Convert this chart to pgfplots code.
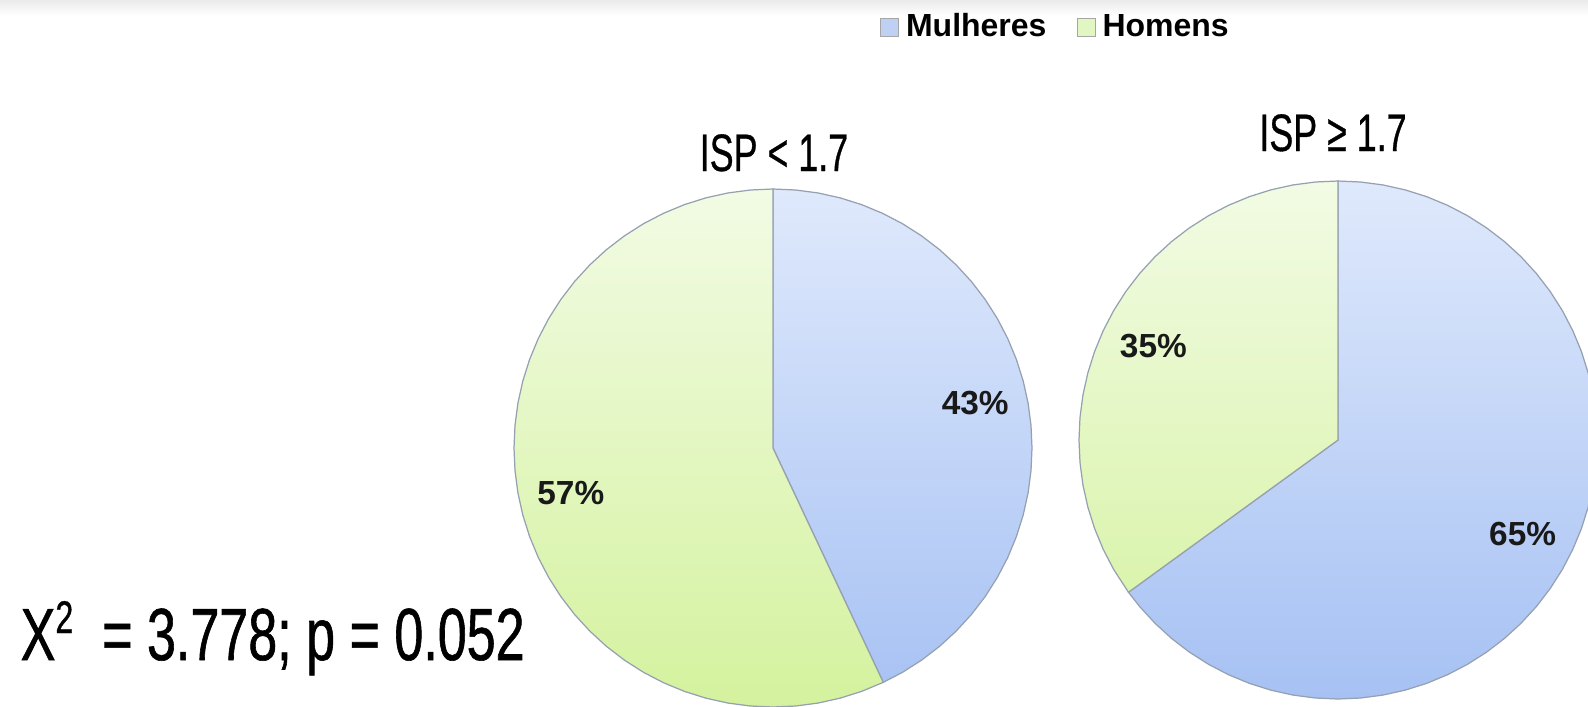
\documentclass[border=0pt]{standalone}
\usepackage{pgfplots}
\pgfplotsset{compat=1.18}
\usepgfplotslibrary{polar}
\usepackage{fontspec}
\setmainfont{Liberation Sans}
\newfontfamily\narrowfont{Liberation Sans}[FakeStretch=0.68, FakeBold=0.6]
\newfontfamily\chifont{Liberation Sans}[FakeStretch=0.705, FakeBold=0.8]
\definecolor{btop}{HTML}{DFE9FC}
\definecolor{bbot}{HTML}{A6C1F3}
\definecolor{gtop}{HTML}{F2FBE4}
\definecolor{gbot}{HTML}{D4F29E}
\definecolor{edge}{HTML}{95A0B0}
\definecolor{blegend}{HTML}{BFD0F4}
\definecolor{glegend}{HTML}{E2F6C4}
\pgfplotsset{
  pie/.style={hide axis, scale only axis, width=5.18cm, height=5.18cm,
    xmin=0, xmax=360, ymin=0, ymax=1, clip=false, anchor=center},
  slice/.style={draw=edge, line width=0.35pt, forget plot},
}
\tikzset{lbl/.style={font=\bfseries\fontsize{9.5}{11}\selectfont, text=black!90}}
\begin{document}
\begin{tikzpicture}
\useasboundingbox (0,0) rectangle (15.88,7.06);
\clip (0,0) rectangle (15.88,7.06);
\fill[top color=black!8, bottom color=white] (0,6.90) rectangle (15.88,7.06);

% ---------- ISP < 1.7 : Mulheres 43 %, Homens 57 %
\begin{polaraxis}[pie, at={(7.73cm,2.58cm)},
  legend style={at={(axis description cs:1.050,1.311)}, anchor=center,
    draw=none, fill=none, legend columns=2,
    font=\bfseries\fontsize{9.1}{10}\selectfont,
    /tikz/every even column/.append style={column sep=2.3mm}},
  legend image code/.code={\draw[#1] (0cm,-0.09cm) rectangle (0.18cm,0.09cm);}]
\addlegendimage{fill=blegend, draw=gray!70, line width=0.3pt}
\addlegendentry{Mulheres}
\addlegendimage{fill=glegend, draw=gray!70, line width=0.3pt}
\addlegendentry{Homens}
% Mulheres 43% (90 -> -64.8 deg)
\addplot[slice, top color=btop, bottom color=bbot!95!btop] coordinates {
 (0,0) (90,1) (85,1) (80,1) (75,1) (70,1) (65,1) (60,1) (55,1) (50,1) (45,1)
 (40,1) (35,1) (30,1) (25,1) (20,1) (15,1) (10,1) (5,1) (0,1) (-5,1)
 (-10,1) (-15,1) (-20,1) (-25,1) (-30,1) (-35,1) (-40,1) (-45,1) (-50,1)
 (-55,1) (-60,1) (-64.8,1)} -- cycle;
% Homens 57% (-64.8 -> -270 deg)
\addplot[slice, top color=gtop, bottom color=gbot] coordinates {
 (0,0) (-64.8,1) (-70,1) (-75,1) (-80,1) (-85,1) (-90,1) (-95,1) (-100,1)
 (-105,1) (-110,1) (-115,1) (-120,1) (-125,1) (-130,1) (-135,1) (-140,1)
 (-145,1) (-150,1) (-155,1) (-160,1) (-165,1) (-170,1) (-175,1) (-180,1)
 (-185,1) (-190,1) (-195,1) (-200,1) (-205,1) (-210,1) (-215,1) (-220,1)
 (-225,1) (-230,1) (-235,1) (-240,1) (-245,1) (-250,1) (-255,1) (-260,1)
 (-265,1) (-270,1)} -- cycle;
\node[lbl] at (axis cs:12.6,0.8) {43\%};
\node[lbl] at (axis cs:192.6,0.8) {57\%};
\end{polaraxis}

% ---------- ISP >= 1.7 : Mulheres 65 %, Homens 35 %
\begin{polaraxis}[pie, at={(13.38cm,2.66cm)}]
% Mulheres 65% (90 -> -144 deg)
\addplot[slice, top color=btop, bottom color=bbot] coordinates {
 (0,0) (90,1) (85,1) (80,1) (75,1) (70,1) (65,1) (60,1) (55,1) (50,1) (45,1)
 (40,1) (35,1) (30,1) (25,1) (20,1) (15,1) (10,1) (5,1) (0,1) (-5,1)
 (-10,1) (-15,1) (-20,1) (-25,1) (-30,1) (-35,1) (-40,1) (-45,1) (-50,1)
 (-55,1) (-60,1) (-65,1) (-70,1) (-75,1) (-80,1) (-85,1) (-90,1) (-95,1)
 (-100,1) (-105,1) (-110,1) (-115,1) (-120,1) (-125,1) (-130,1) (-135,1)
 (-140,1) (-144,1)} -- cycle;
% Homens 35% (-144 -> -270 deg)
\addplot[slice, top color=gtop, bottom color=gbot!79!gtop] coordinates {
 (0,0) (-144,1) (-150,1) (-155,1) (-160,1) (-165,1) (-170,1) (-175,1)
 (-180,1) (-185,1) (-190,1) (-195,1) (-200,1) (-205,1) (-210,1) (-215,1)
 (-220,1) (-225,1) (-230,1) (-235,1) (-240,1) (-245,1) (-250,1) (-255,1)
 (-260,1) (-265,1) (-270,1)} -- cycle;
\node[lbl] at (axis cs:-27,0.8) {65\%};
\node[lbl] at (axis cs:153,0.8) {35\%};
\end{polaraxis}

% titles
\node[anchor=base, inner sep=0pt, font=\narrowfont\fontsize{15}{18}\selectfont] at (7.74,5.35) {ISP < 1.7};
\node[anchor=base, inner sep=0pt, font=\narrowfont\fontsize{15}{18}\selectfont] at (13.33,5.55) {ISP ≥ 1.7};
% statistic
\node[anchor=base west, inner sep=0pt, font=\chifont\fontsize{21}{24}\selectfont] at (0.20,0.46)
  {Χ\raisebox{0.27cm}{\fontsize{13}{14}\selectfont 2}\ \ = 3.778; p = 0.052};
\end{tikzpicture}
\end{document}
